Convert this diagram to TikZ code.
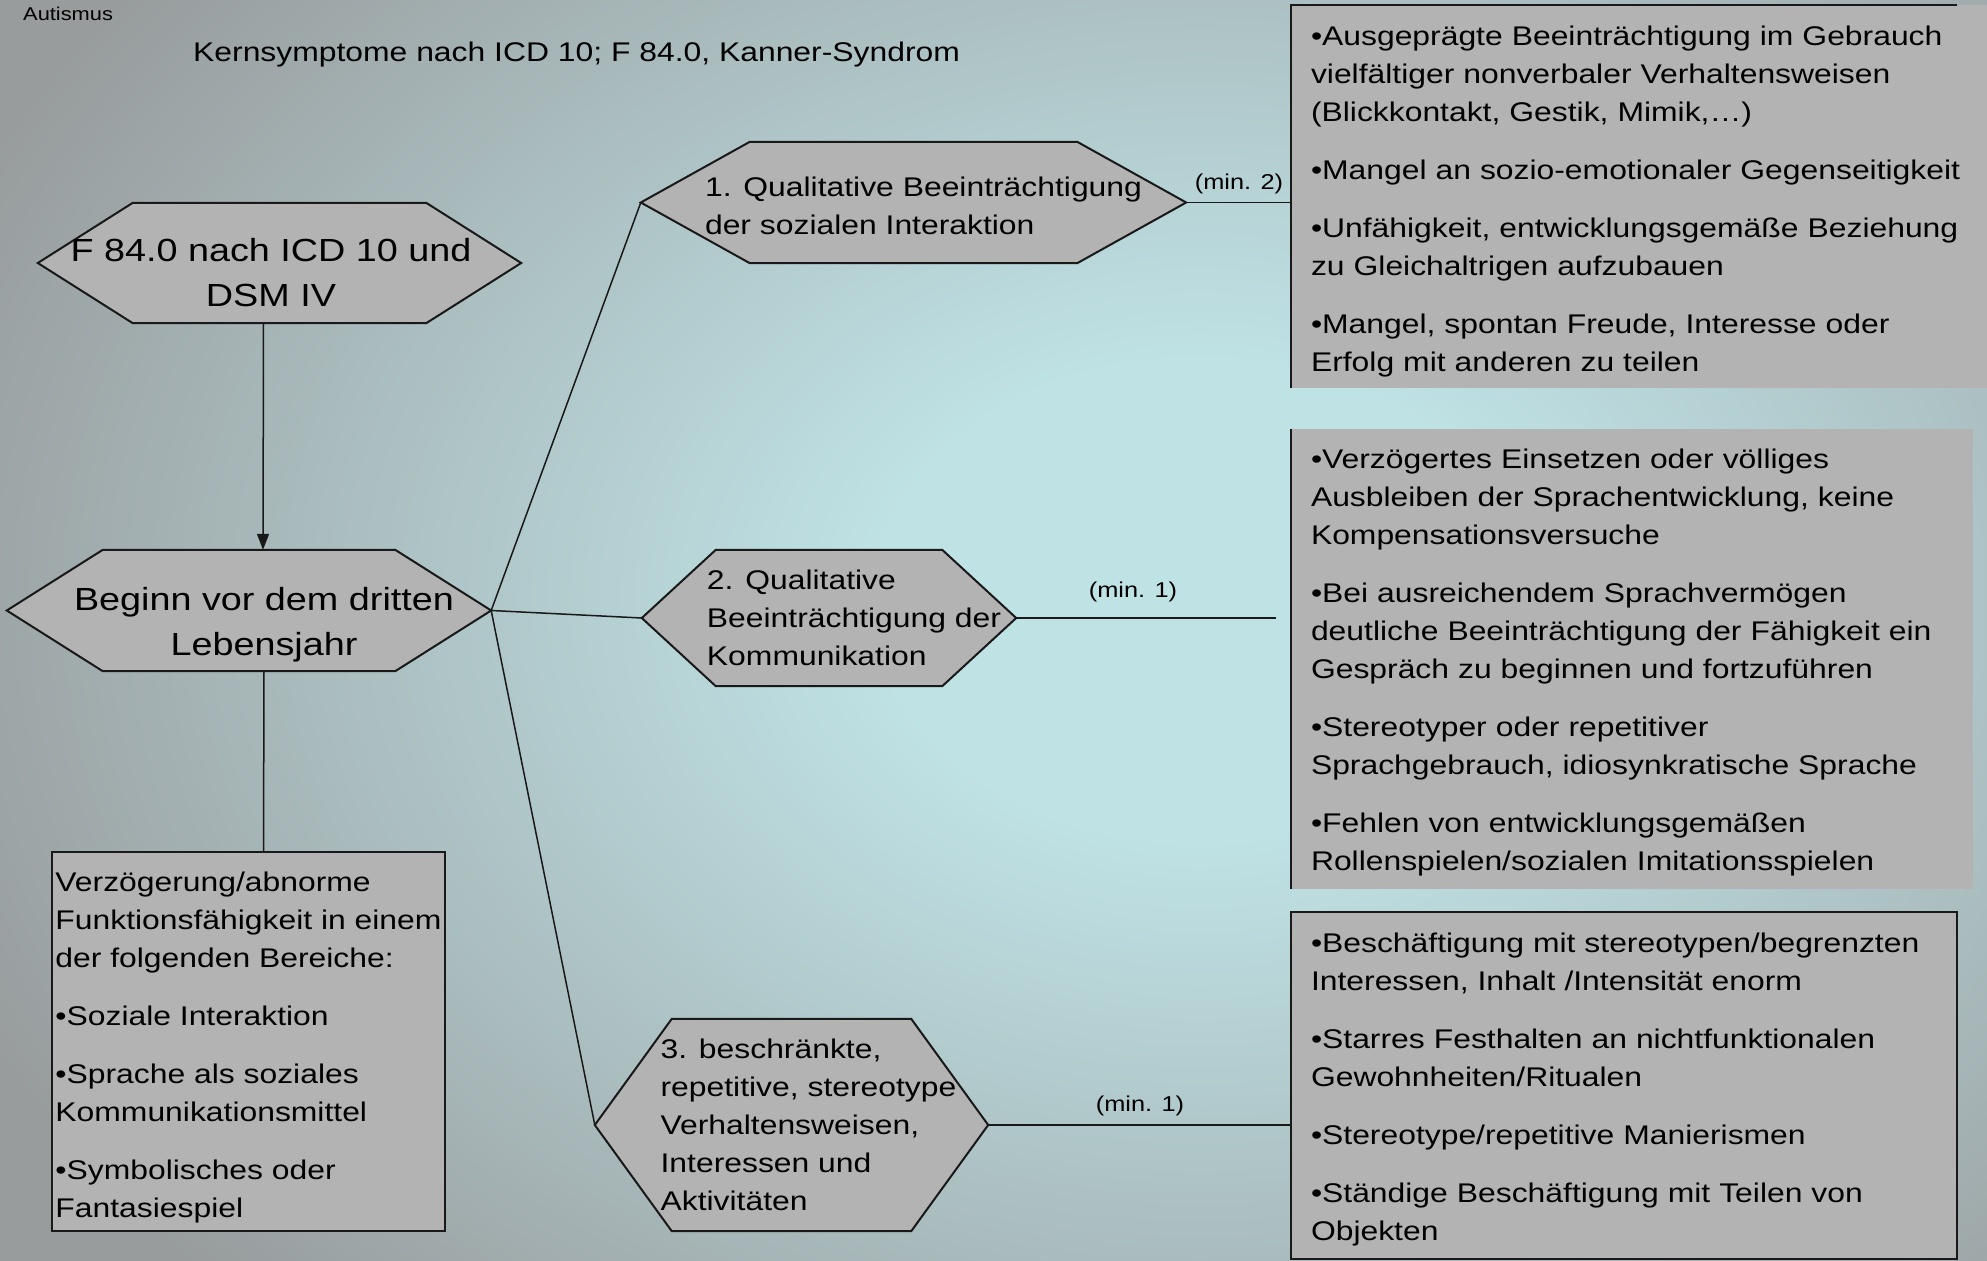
\documentclass[tikz,border=0pt]{standalone}
\usepackage{fontspec}
\setmainfont{Liberation Sans}[FakeStretch=1.18]
\usetikzlibrary{arrows.meta,backgrounds}

\definecolor{bgcentre}{RGB}{191,226,229}
\definecolor{bgedge}{RGB}{152,156,157}
\definecolor{boxgray}{RGB}{179,179,179}
\definecolor{linegray}{RGB}{25,25,25}
\pgfdeclareradialshading{slideglow}{\pgfpoint{0bp}{0bp}}{color(0bp)=(bgcentre); color(6bp)=(bgcentre); color(25bp)=(bgedge); color(50bp)=(bgedge)}

\tikzset{
  bodytext/.style={font=\fontsize{27}{38}\selectfont},
  bigtext/.style={font=\fontsize{32}{45}\selectfont},
  minlabel/.style={font=\fontsize{21.5}{26}\selectfont, inner sep=0pt},
  hexbox/.style={inner sep=0pt},
  listbox/.style={fill=boxgray, inner sep=0pt},
  listtext/.style={bodytext, align=left, inner sep=0pt},
  edge/.style={draw=linegray, line width=1.5pt},
  hexline/.style={draw=linegray, line width=2pt, fill=boxgray}
}

\begin{document}
\begin{tikzpicture}[x=1pt,y=-1pt]
  \useasboundingbox (0,0) rectangle (1987,1261);

  \node[anchor=west, inner sep=0pt, font=\fontsize{18.5}{22}\selectfont] (topic) at (23,14) {Autismus};
  \node[anchor=west, inner sep=0pt, font=\fontsize{27}{32}\selectfont] (title) at (193,55) {Kernsymptome nach ICD 10; F 84.0, Kanner-Syndrom};

  % hexagons (outlines drawn on the background layer)
  \node[hexbox, minimum width=483pt, minimum height=120pt,
    label={[name=f84txt, bigtext, align=center, xshift=-8.5pt, yshift=-10pt]center:{F 84.0 nach ICD 10 und\\DSM IV}}] (f84) at (279.5,263) {};
  \node[hexbox, minimum width=484pt, minimum height=121pt,
    label={[name=beginntxt, bigtext, align=center, xshift=15pt, yshift=-14pt]center:{Beginn vor dem dritten\\Lebensjahr}}] (beginn) at (249,610.5) {};
  \node[hexbox, minimum width=545pt, minimum height=121pt,
    label={[name=qatxt, bodytext, align=left, xshift=10pt, yshift=-3pt]center:{1. Qualitative Beeinträchtigung\\der sozialen Interaktion}}] (qa) at (913.5,202.5) {};
  \node[hexbox, minimum width=374pt, minimum height=136pt,
    label={[name=qbtxt, bodytext, align=left, xshift=25pt]center:{2. Qualitative\\Beeinträchtigung der\\Kommunikation}}] (qb) at (829,618) {};
  \node[hexbox, minimum width=393pt, minimum height=212pt,
    label={[name=qctxt, bodytext, align=left, xshift=17pt]center:{3. beschränkte,\\repetitive, stereotype\\Verhaltensweisen,\\Interessen und\\Aktivitäten}}] (qc) at (791.5,1125) {};

  % text boxes
  \node[listbox, draw=linegray, line width=2pt, minimum width=393pt, minimum height=379pt,
    label={[name=lboxtxt, listtext, yshift=-6pt]center:{Verzögerung/abnorme\\Funktionsfähigkeit in einem\\der folgenden Bereiche:\\[20pt]•Soziale Interaktion\\[20pt]•Sprache als soziales\\Kommunikationsmittel\\[20pt]•Symbolisches oder\\Fantasiespiel}}] (lbox) at (248.5,1041.5) {};
  \node[listbox, minimum width=696pt, minimum height=383pt,
    label={[name=crit1txt, listtext, text width=656pt, yshift=-5pt]center:{•Ausgeprägte Beeinträchtigung im Gebrauch\\vielfältiger nonverbaler Verhaltensweisen\\(Blickkontakt, Gestik, Mimik,…)\\[20pt]•Mangel an sozio-emotionaler Gegenseitigkeit\\[20pt]•Unfähigkeit, entwicklungsgemäße Beziehung\\zu Gleichaltrigen aufzubauen\\[20pt]•Mangel, spontan Freude, Interesse oder\\Erfolg mit anderen zu teilen}}] (crit1) at (1639,196.5) {};
  \node[listbox, minimum width=682pt, minimum height=460pt,
    label={[name=crit2txt, listtext, text width=642pt, yshift=-4pt]center:{•Verzögertes Einsetzen oder völliges\\Ausbleiben der Sprachentwicklung, keine\\Kompensationsversuche\\[20pt]•Bei ausreichendem Sprachvermögen\\deutliche Beeinträchtigung der Fähigkeit ein\\Gespräch zu beginnen und fortzuführen\\[20pt]•Stereotyper oder repetitiver\\Sprachgebrauch, idiosynkratische Sprache\\[20pt]•Fehlen von entwicklungsgemäßen\\Rollenspielen/sozialen Imitationsspielen}}] (crit2) at (1632,659) {};
  \node[listbox, draw=linegray, line width=2pt, minimum width=666pt, minimum height=347pt,
    label={[name=crit3txt, listtext, text width=626pt, yshift=-4pt]center:{•Beschäftigung mit stereotypen/begrenzten\\Interessen, Inhalt /Intensität enorm\\[20pt]•Starres Festhalten an nichtfunktionalen\\Gewohnheiten/Ritualen\\[20pt]•Stereotype/repetitive Manierismen\\[20pt]•Ständige Beschäftigung mit Teilen von\\Objekten}}] (crit3) at (1624,1085.5) {};
  \draw[edge, line width=2pt] ([xshift=-30pt]crit1.north east) -- (crit1.north west) -- (crit1.south west);
  \draw[edge, line width=2pt] (crit2.north west) -- (crit2.south west);

  % connectors
  \coordinate (qbend) at (1276,618);
  \draw[edge, -{Triangle[length=16pt,width=12pt]}] ([xshift=-16pt]f84.south) -- ([xshift=14pt]beginn.north);
  \draw[edge] ([xshift=15pt]beginn.south) -- ([xshift=15pt]lbox.north);
  \draw[edge] (qa.west) -- (beginn.east) -- (qc.west);
  \draw[edge] (beginn.east) -- (qb.west);
  \draw[edge] (qa.east) -- (qa.east -| crit1.west);
  \draw[edge] (qb.east) -- (qbend);
  \draw[edge] (qc.east) -- (qc.east -| crit3.west);

  \node[minlabel] (mina) at (1239,184) {(min. 2)};
  \node[minlabel] (minb) at (1133,592) {(min. 1)};
  \node[minlabel] (minc) at (1140,1106) {(min. 1)};

  \begin{scope}[on background layer]
    \fill[bgedge] (0,0) rectangle (1987,1261);
    \begin{scope}
      \clip (0,0) rectangle (1987,1261);
      \shade[shading=slideglow] (1200,600) ellipse [x radius=1350pt, y radius=1000pt];
    \end{scope}
    \foreach \n/\d in {f84/95,beginn/96,qa/109,qb/74,qc/77}{
      \filldraw[hexline] (\n.west) -- ([xshift=\d]\n.north west) -- ([xshift=-\d]\n.north east)
        -- (\n.east) -- ([xshift=-\d]\n.south east) -- ([xshift=\d]\n.south west) -- cycle;
    }
  \end{scope}
\end{tikzpicture}
\end{document}
